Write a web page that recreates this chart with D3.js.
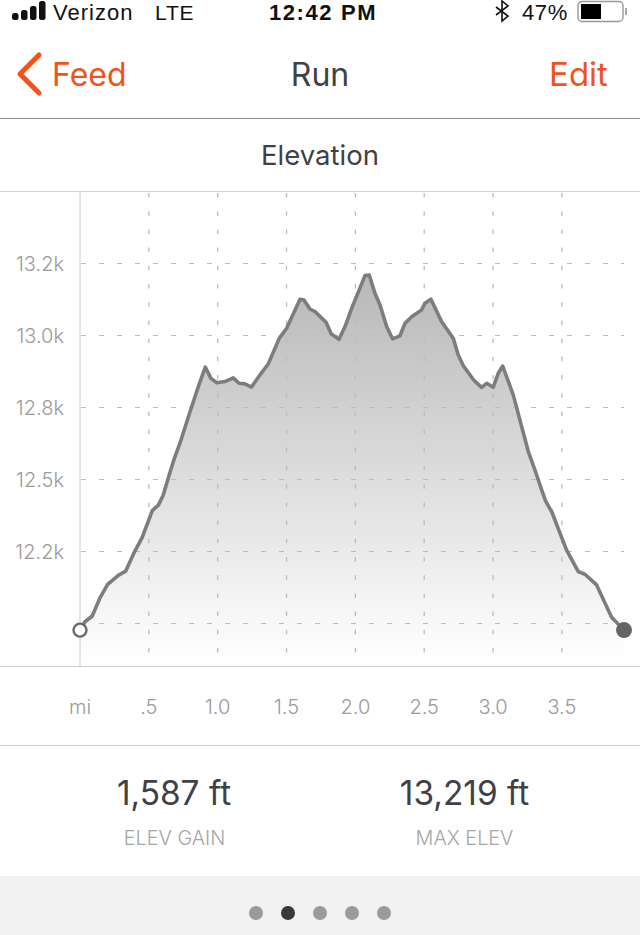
<!DOCTYPE html>
<html><head><meta charset="utf-8">
<script src="https://cdn.jsdelivr.net/npm/d3@7"></script>
<style>html,body{margin:0;padding:0;background:#fff;overflow:hidden}svg{display:block}
text{font-family:Inter,"Liberation Sans",sans-serif}</style></head><body>
<svg id="c" width="640" height="935"></svg>
<script>
const miles=[0,.036,.089,.145,.201,.278,.332,.392,.452,.525,.569,.605,.641,.683,.726,.799,.859,.91,.951,.993,1.053,1.113,1.155,1.198,1.245,1.307,1.367,1.447,1.501,1.598,1.627,1.67,1.707,1.787,1.825,1.881,1.925,1.973,2.07,2.101,2.142,2.179,2.227,2.271,2.324,2.36,2.409,2.481,2.505,2.549,2.627,2.711,2.747,2.784,2.863,2.917,2.954,3.001,3.038,3.07,3.147,3.256,3.304,3.353,3.382,3.426,3.534,3.619,3.667,3.752,3.861,3.951];
const elevation=[11977,12006,12026,12089,12136,12167,12182,12245,12299,12392,12411,12446,12505,12570,12626,12735,12822,12890,12851,12836,12840,12853,12834,12832,12821,12863,12901,12990,13025,13126,13123,13092,13083,13046,13005,12987,13031,13094,13208,13210,13147,13106,13031,12988,12999,13042,13065,13089,13112,13126,13048,12990,12932,12895,12843,12820,12834,12820,12869,12894,12793,12597,12533,12464,12425,12388,12255,12180,12171,12134,12022,11977];
const xTicks=[0,.5,1,1.5,2,2.5,3,3.5];
const xTickLabels=["mi",".5","1.0","1.5","2.0","2.5","3.0","3.5"];
const yTicks=[13250,13000,12750,12500,12250,12000];
const yTickLabels=["13.2k","13.0k","12.8k","12.5k","12.2k",""];
const orange="#f0531c",dark="#3f4144";
const svg=d3.select("#c");
const x=d3.scaleLinear().domain([0,3.951]).range([80,624]);
const y=d3.scaleLinear().domain([12000,13000]).range([623.5,335.5]);
const data=miles.map((m,i)=>({m,e:elevation[i]}));
const defs=svg.append("defs");
const g=defs.append("linearGradient").attr("id","fill").attr("gradientUnits","userSpaceOnUse").attr("x1",0).attr("x2",0).attr("y1",275).attr("y2",662);
g.append("stop").attr("offset",0).attr("stop-color","#b8b8b8");
g.append("stop").attr("offset",1).attr("stop-color","#ffffff");

const chartBottom=666, chartTop=192;
svg.append("path").datum(data).attr("fill","url(#fill)")
 .attr("d",d3.area().x(d=>x(d.m)).y0(662).y1(d=>y(d.e)));
svg.append("g").selectAll("line").data(yTicks).join("line")
 .attr("x1",x(0)+1).attr("x2",624).attr("y1",d=>y(d)).attr("y2",d=>y(d))
 .attr("stroke","#bcbcbc").attr("stroke-width",1).attr("stroke-dasharray","5 13");
svg.append("g").selectAll("line").data(xTicks.slice(1)).join("line")
 .attr("x1",d=>x(d)).attr("x2",d=>x(d)).attr("y1",chartTop+1).attr("y2",chartBottom)
 .attr("stroke","#bcbcbc").attr("stroke-width",1.3).attr("stroke-dasharray","4.5 13.7");
svg.append("line").attr("x1",x(0)).attr("x2",x(0)).attr("y1",chartTop).attr("y2",chartBottom).attr("stroke","#c8c8c8").attr("stroke-width",1);

svg.append("path").datum(data).attr("fill","none").attr("stroke","#7d7d7d").attr("stroke-width",3.6).attr("stroke-linejoin","round")
 .attr("d",d3.line().x(d=>x(d.m)).y(d=>y(d.e)));
svg.append("circle").attr("cx",x(miles[0])).attr("cy",y(elevation[0])).attr("r",6.5).attr("fill","#fff").attr("stroke","#6a6a6a").attr("stroke-width",2.4);
svg.append("circle").attr("cx",x(miles[miles.length-1])).attr("cy",y(elevation[elevation.length-1])).attr("r",8).attr("fill","#636363");

svg.append("g").selectAll("text").data(yTicks).join("text").attr("x",64).attr("y",d=>y(d)+7).attr("text-anchor","end")
 .attr("font-size",20).attr("font-weight",300).attr("fill","#9a9a9a").text((d,i)=>yTickLabels[i]);
svg.append("g").selectAll("text").data(xTicks).join("text").attr("x",d=>x(d)).attr("y",714).attr("text-anchor","middle")
 .attr("font-size",20).attr("font-weight",300).attr("fill","#9a9a9a").text((d,i)=>xTickLabels[i]);

const rules=[[118.5,"#8e8e8e"],[191.5,"#d4d4d4"],[666.5,"#d0d0d0"],[745.5,"#d0d0d0"]];
svg.append("g").selectAll("line").data(rules).join("line").attr("x1",0).attr("x2",640).attr("y1",d=>d[0]).attr("y2",d=>d[0]).attr("stroke",d=>d[1]);

const sig=[[12,7],[21,10],[30,14],[39,19]];
svg.append("g").selectAll("rect").data(sig).join("rect").attr("x",d=>d[0]).attr("y",d=>20-d[1]).attr("width",6.5).attr("height",d=>d[1]).attr("rx",2.5).attr("fill","#111");
function t(s,xp,yp,size,fill,anchor,weight,ls,fam){const e=svg.append("text").attr("x",xp).attr("y",yp).attr("font-size",size).attr("fill",fill).attr("text-anchor",anchor||"start").attr("font-weight",weight||400).attr("letter-spacing",ls||0).text(s);if(fam)e.style("font-family",fam);return e;}
const lib='"Liberation Sans",sans-serif';
t("Verizon",53,20,22,"#111","start",400,1,lib);
t("LTE",155,20,21,"#111","start",400,.8,lib);
t("12:42 PM",323,20,22,"#111","middle",700,1.6,lib);
t("47%",522,20,22,"#111","start",400,.6,lib);
svg.append("path").attr("d","M496 7L508 16L502 21V1L508 6L496 15").attr("fill","none").attr("stroke","#111").attr("stroke-width",1.6);
svg.append("rect").attr("x",578).attr("y",1.5).attr("width",45).attr("height",20).attr("rx",4).attr("fill","#fff").attr("stroke","#999").attr("stroke-width",1.4);
svg.append("rect").attr("x",581).attr("y",4).attr("width",20).attr("height",15).attr("fill","#000");
svg.append("rect").attr("x",625).attr("y",8).attr("width",2).attr("height",7).attr("fill","#aaa");

svg.append("path").attr("d","M39 55L20 74L39 93").attr("fill","none").attr("stroke",orange).attr("stroke-width",5).attr("stroke-linecap","round").attr("stroke-linejoin","round");
t("Feed",52,86,32,orange);
t("Run",320,86,32,dark,"middle");
t("Edit",578.5,86,33,orange,"middle");
t("Elevation",320,165,27.5,dark,"middle");

t("1,587 ft",174,805,33.4,dark,"middle");
t("13,219 ft",464.5,805,33.4,dark,"middle");
t("ELEV GAIN",174.5,845,19.8,"#a5a5a5","middle",300);
t("MAX ELEV",464.5,845,19.8,"#a5a5a5","middle",300);

svg.append("rect").attr("x",0).attr("y",876).attr("width",640).attr("height",59).attr("fill","#f1f1f1");
const pages=[256,288,320,352,384];
svg.append("g").selectAll("circle").data(pages).join("circle").attr("cx",d=>d).attr("cy",913).attr("r",7).attr("fill",(d,i)=>i===1?"#3a3a3a":"#9b9b9b");
</script></body></html>
